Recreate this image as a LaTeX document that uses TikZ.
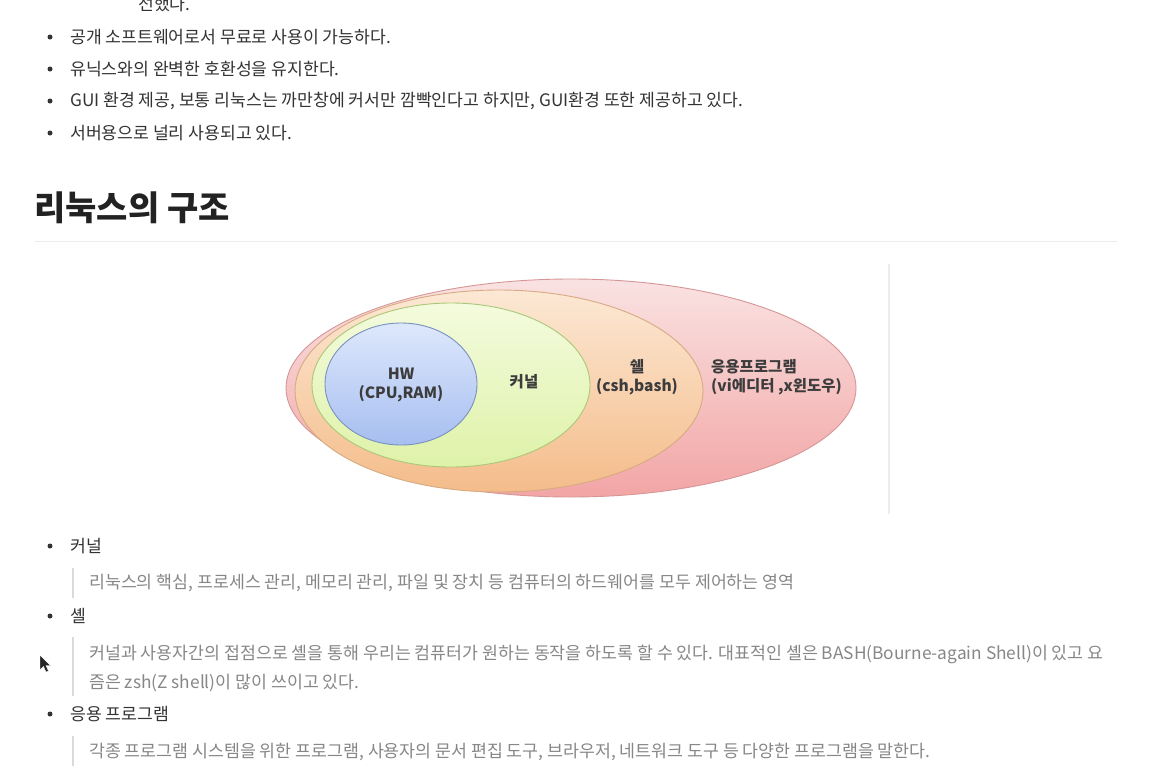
\documentclass[tikz,border=0pt]{standalone}
\usepackage{fontspec}
\setmainfont{Noto Sans CJK KR}
\usetikzlibrary{shapes.geometric,positioning}
\definecolor{BodyGray}{RGB}{51,51,51}
\definecolor{HeadGray}{RGB}{34,34,34}
\definecolor{QuoteGray}{RGB}{135,135,135}
\definecolor{BarGray}{RGB}{218,218,218}
\definecolor{RuleGray}{RGB}{236,236,236}
\definecolor{LabelGray}{RGB}{60,60,60}
\definecolor{PinkEdge}{RGB}{214,150,150}
\definecolor{PinkTop}{RGB}{250,226,226}
\definecolor{PinkBot}{RGB}{242,165,165}
\definecolor{PeachEdge}{RGB}{214,170,130}
\definecolor{PeachTop}{RGB}{252,232,212}
\definecolor{PeachBot}{RGB}{244,188,138}
\definecolor{LimeEdge}{RGB}{170,200,120}
\definecolor{LimeTop}{RGB}{244,251,222}
\definecolor{LimeBot}{RGB}{222,242,168}
\definecolor{HwEdge}{RGB}{120,145,190}
\definecolor{HwTop}{RGB}{222,232,252}
\definecolor{HwBot}{RGB}{166,190,240}
\tikzset{
  textline/.style={anchor=west,inner sep=0pt,text=BodyGray,
    font=\fontsize{17.2}{20}\selectfont},
  bulletdot/.style={circle,fill=BodyGray,inner sep=0pt,minimum size=5pt},
  quotetext/.style={anchor=west,inner sep=0pt,text=QuoteGray,align=left,
    font=\fontsize{17.3}{29}\selectfont},
  quotebar/.style={line width=2.5pt,BarGray},
  layer/.style={ellipse,inner sep=0pt,line width=0.9pt},
  layertext/.style={inner sep=0pt,align=center,text=LabelGray,
    font=\bfseries\fontsize{15.5}{19}\selectfont}
}
\begin{document}
\begin{tikzpicture}[x=1pt,y=-1pt]
  \clip (0,0) rectangle (1154,774);
  \fill[white] (0,0) rectangle (1154,774);

  % intro list
  \node[textline] (intro0) at (138,4) {선했다.};
  \foreach \i/\y/\txt in {1/37/{공개 소프트웨어로서 무료로 사용이 가능하다.},
      2/69/{유닉스와의 완벽한 호환성을 유지한다.},
      3/101/{GUI 환경 제공, 보통 리눅스는 까만창에 커서만 깜빡인다고 하지만, GUI환경 또한 제공하고 있다.},
      4/133/{서버용으로 널리 사용되고 있다.}} {
    \node[bulletdot] (dot\i) at (50,\y) {};
    \node[textline] (item\i) at (70,\y) {\txt};
  }

  % heading
  \node[anchor=west,inner sep=0pt,text=HeadGray,font=\bfseries\fontsize{34}{38}\selectfont]
    (title) at (34,208) {리눅스의 구조};
  \draw[RuleGray,line width=1pt] (35,241) -- (1117,241);

  % layer picture
  \node[layer,draw=PinkEdge,top color=PinkTop,bottom color=PinkBot,
    minimum width=570pt,minimum height=218pt] (app) at (571,388) {};
  \node[layer,draw=PeachEdge,top color=PeachTop,bottom color=PeachBot,
    minimum width=408pt,minimum height=202pt] (shell) at (499,391) {};
  \node[layer,draw=LimeEdge,top color=LimeTop,bottom color=LimeBot,
    minimum width=278pt,minimum height=164pt] (kernel) at (451,385) {};
  \node[layer,draw=HwEdge,top color=HwTop,bottom color=HwBot,
    minimum width=152pt,minimum height=122pt] (hw) at (401,384) {};
  \node[layertext] (hwlabel) at (401,385) {HW\\(CPU,RAM)};
  \node[layertext] (kernellabel) at (524,382) {커널};
  \node[layertext] (shelllabel) at (637,377) {쉘\\(csh,bash)};
  \node[layertext,anchor=west,align=left] (applabel) at (711,377)
    {응용프로그램\\(vi에디터 ,x윈도우)};
  \draw[RuleGray,line width=1.2pt] (889,264) -- (889,514);

  % explanation list
  \node[bulletdot] (dotk) at (50,546) {};
  \node[textline] (kernelitem) at (70,546) {커널};
  \draw[quotebar] (73,568) -- (73,598);
  \node[quotetext] (kernelnote) at (89,583)
    {리눅스의 핵심, 프로세스 관리, 메모리 관리, 파일 및 장치 등 컴퓨터의 하드웨어를 모두 제어하는 영역};

  \node[bulletdot] (dots) at (50,616) {};
  \node[textline] (shellitem) at (70,616) {셸};
  \draw[quotebar] (73,637) -- (73,696);
  \node[quotetext] (shellnote) at (89,668)
    {커널과 사용자간의 접점으로 셸을 통해 우리는 컴퓨터가 원하는 동작을 하도록 할 수 있다. 대표적인 셸은 BASH(Bourne-again Shell)이 있고 요\\
     즘은 zsh(Z shell)이 많이 쓰이고 있다.};

  \node[bulletdot] (dota) at (50,714) {};
  \node[textline] (appitem) at (70,714) {응용 프로그램};
  \draw[quotebar] (73,736) -- (73,766);
  \node[quotetext] (appnote) at (89,752)
    {각종 프로그램 시스템을 위한 프로그램, 사용자의 문서 편집 도구, 브라우저, 네트워크 도구 등 다양한 프로그램을 말한다.};

  % mouse pointer
  \fill[black!85,draw=white,line width=0.4pt] (40,655) -- (40,670) -- (43.5,666.5)
    -- (46,672) -- (48.5,671) -- (46,665.5) -- (50.5,665.5) -- cycle;
\end{tikzpicture}
\end{document}
